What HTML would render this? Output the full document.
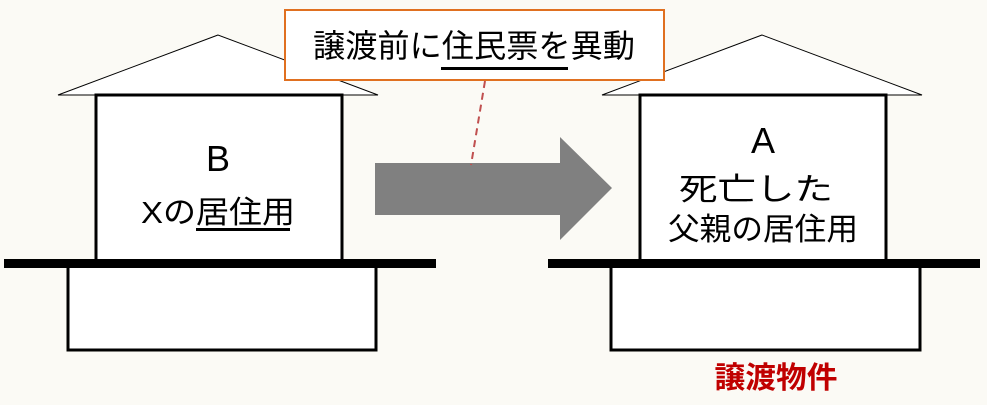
<!DOCTYPE html>
<html><head><meta charset="utf-8"><style>
html,body{margin:0;padding:0;background:#fbfaf5;}
svg{display:block;font-family:"Liberation Sans","Noto Sans CJK JP",sans-serif;}
</style></head><body>
<svg width="987" height="405" viewBox="0 0 987 405" xmlns="http://www.w3.org/2000/svg">
<rect width="987" height="405" fill="#fbfaf5"/>
<!-- left house -->
<polygon points="218,35 58,95 378,95" fill="#fff" stroke="#000" stroke-width="1"/>
<rect x="96" y="95" width="246" height="166" fill="#fff" stroke="#000" stroke-width="3"/>
<rect x="68" y="266" width="308" height="84" fill="#fff" stroke="#000" stroke-width="3"/>
<rect x="4" y="259" width="432" height="9" fill="#000"/>
<text x="218" y="171" font-size="36" text-anchor="middle">B</text>
<text x="218" y="223" font-size="31" text-anchor="middle" textLength="154" lengthAdjust="spacingAndGlyphs">Xの居住用</text>
<rect x="196" y="228" width="94" height="3" fill="#000"/>
<!-- right house -->
<polygon points="762,35 602,95 922,95" fill="#fff" stroke="#000" stroke-width="1"/>
<rect x="640" y="95" width="246" height="166" fill="#fff" stroke="#000" stroke-width="3"/>
<rect x="611" y="266" width="309" height="84" fill="#fff" stroke="#000" stroke-width="3"/>
<rect x="548" y="259" width="432" height="9" fill="#000"/>
<text x="763" y="153" font-size="36" text-anchor="middle">A</text>
<text x="756" y="200" font-size="31" text-anchor="middle" textLength="154" lengthAdjust="spacingAndGlyphs">死亡した</text>
<text x="763" y="240" font-size="31" text-anchor="middle" textLength="190" lengthAdjust="spacingAndGlyphs">父親の居住用</text>
<text x="776" y="388" font-size="30" font-weight="bold" fill="#c00000" text-anchor="middle" textLength="123" lengthAdjust="spacingAndGlyphs">譲渡物件</text>
<!-- arrow -->
<polygon points="375,163 560,163 560,137 612,188 560,240 560,215 375,215" fill="#808080"/>
<!-- callout -->
<line x1="485" y1="81" x2="471" y2="165" stroke="#c05050" stroke-width="2" stroke-dasharray="7,5"/>
<rect x="285" y="10" width="379" height="70" fill="#fff" stroke="#e07020" stroke-width="2"/>
<text x="474" y="57" font-size="32" text-anchor="middle" textLength="322" lengthAdjust="spacingAndGlyphs">譲渡前に住民票を異動</text>
<rect x="441" y="67" width="127" height="3" fill="#000"/>
</svg>
</body></html>
